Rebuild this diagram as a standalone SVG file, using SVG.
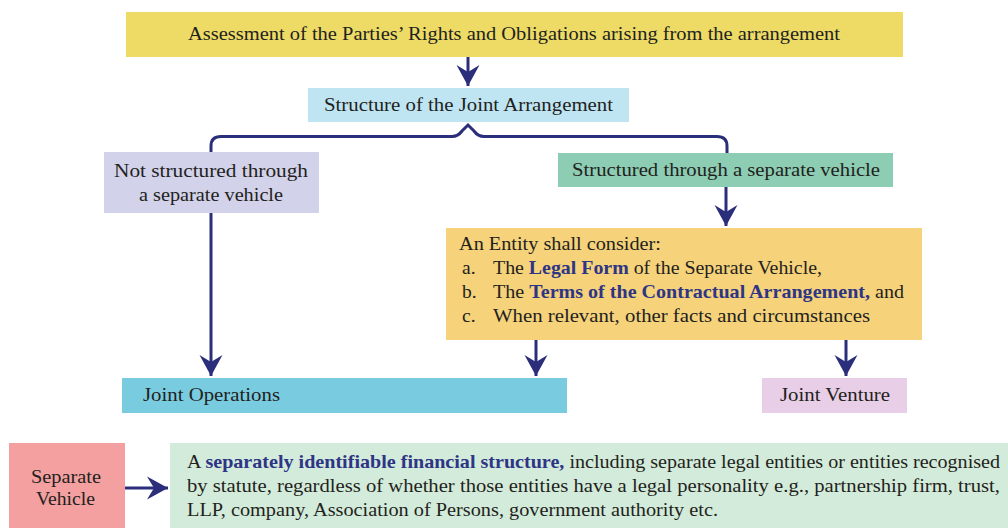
<svg xmlns="http://www.w3.org/2000/svg" width="1008" height="528" viewBox="0 0 1008 528">
<style>
text{font-family:"Liberation Serif","DejaVu Serif",serif;font-size:19.5px;fill:#231f20}
.b{font-weight:bold;fill:#2e3585}
.c{stroke:#2b2e7a;stroke-width:3;fill:none}
</style>
<defs>
<marker id="ah" markerUnits="userSpaceOnUse" markerWidth="26" markerHeight="26" viewBox="-23 -13 26 26" refX="0" refY="0" orient="auto">
<path d="M0,0 L-21,-11.5 L-14,0 L-21,11.5 Z" fill="#2b2e7a"/>
</marker>
</defs>
<rect width="1008" height="528" fill="#fff"/>
<g id="assessment">
<rect x="126" y="12" width="777" height="45" fill="#eddb66"/>
<text x="188" y="40" textLength="652" lengthAdjust="spacingAndGlyphs">Assessment of the Parties’ Rights and Obligations arising from the arrangement</text>
</g>
<g id="structure">
<rect x="308" y="88" width="321" height="34" fill="#bfe5f3"/>
<text x="324" y="111" textLength="289" lengthAdjust="spacingAndGlyphs">Structure of the Joint Arrangement</text>
</g>
<g id="not-structured">
<rect x="104" y="152" width="215" height="61" fill="#d2d2ea"/>
<text x="114" y="177" textLength="194" lengthAdjust="spacingAndGlyphs">Not structured through</text>
<text x="139" y="201" textLength="144" lengthAdjust="spacingAndGlyphs">a separate vehicle</text>
</g>
<g id="structured">
<rect x="558" y="153" width="335" height="34" fill="#8ccdb3"/>
<text x="572" y="176" textLength="308" lengthAdjust="spacingAndGlyphs">Structured through a separate vehicle</text>
</g>
<g id="consider">
<rect x="446" y="228" width="476" height="112" fill="#f6d27a"/>
<text x="459" y="250" textLength="202" lengthAdjust="spacingAndGlyphs">An Entity shall consider:</text>
<text x="462" y="274">a.</text>
<text x="493" y="274" textLength="329" lengthAdjust="spacingAndGlyphs">The <tspan class="b">Legal Form</tspan> of the Separate Vehicle,</text>
<text x="462" y="298">b.</text>
<text x="493" y="298" textLength="411" lengthAdjust="spacingAndGlyphs">The <tspan class="b">Terms of the Contractual Arrangement,</tspan> and</text>
<text x="462" y="322">c.</text>
<text x="493" y="322" textLength="377" lengthAdjust="spacingAndGlyphs">When relevant, other facts and circumstances</text>
</g>
<g id="joint-operations">
<rect x="122" y="378" width="445" height="35" fill="#79cbe0"/>
<text x="143" y="401" textLength="137" lengthAdjust="spacingAndGlyphs">Joint Operations</text>
</g>
<g id="joint-venture">
<rect x="762" y="378" width="145" height="35" fill="#e8cee6"/>
<text x="780" y="401" textLength="110" lengthAdjust="spacingAndGlyphs">Joint Venture</text>
</g>
<g id="separate-vehicle">
<rect x="9" y="443" width="116" height="85" fill="#f4a0a0"/>
<text x="31" y="483" textLength="70" lengthAdjust="spacingAndGlyphs">Separate</text>
<text x="36" y="505" textLength="59" lengthAdjust="spacingAndGlyphs">Vehicle</text>
</g>
<g id="definition">
<rect x="170" y="443" width="838" height="85" fill="#d3ebda"/>
<text x="187" y="468" textLength="813" lengthAdjust="spacingAndGlyphs">A <tspan class="b">separately identifiable financial structure,</tspan> including separate legal entities or entities recognised</text>
<text x="187" y="492" textLength="813" lengthAdjust="spacingAndGlyphs">by statute, regardless of whether those entities have a legal personality e.g., partnership firm, trust,</text>
<text x="187" y="516" textLength="531" lengthAdjust="spacingAndGlyphs">LLP, company, Association of Persons, government authority etc.</text>
</g>
<g id="connectors">
<path class="c" d="M468,57 V86" marker-end="url(#ah)"/>
<path class="c" d="M211,152 V146 Q211,136.5 221,136.5 H452 Q458,136.5 462,131 L468,125 L474,131 Q478,136.5 484,136.5 H717 Q727,136.5 727,146 V153"/>
<path class="c" d="M726,187 V226" marker-end="url(#ah)"/>
<path class="c" d="M211,213 V376" marker-end="url(#ah)"/>
<path class="c" d="M536,340 V376" marker-end="url(#ah)"/>
<path class="c" d="M846,340 V376" marker-end="url(#ah)"/>
<path class="c" d="M125,488 H168" marker-end="url(#ah)"/>
</g>
</svg>
